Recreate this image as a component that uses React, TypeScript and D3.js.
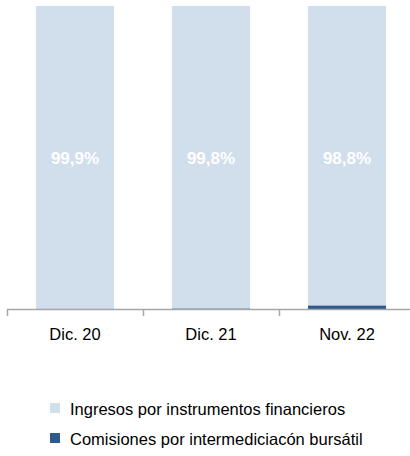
import React, { useEffect, useRef } from 'react';
import * as d3 from 'd3';

const categories = ['Dic. 20', 'Dic. 21', 'Nov. 22'];
const seriesNames = ['Ingresos por instrumentos financieros', 'Comisiones por intermediciacón bursátil'];
const ingresos = [99.9, 99.8, 98.8];
const comisiones = [0.1, 0.2, 1.2];
const labels = ['99,9%', '99,8%', '98,8%'];
const colors = ['#D1DEEC', '#2F5A8E'];

const App = () => {
  const ref = useRef<SVGSVGElement | null>(null);

  useEffect(() => {
    if (!ref.current) return;
    const svg = d3.select(ref.current);
    svg.selectAll('*').remove();

    const width = 410;
    const font = 'Liberation Sans, Arial, sans-serif';

    // Escalas
    const pad = 0.426;
    const x = d3.scaleBand<string>()
      .domain(categories)
      .range([7, 415])
      .paddingInner(pad)
      .paddingOuter(pad / 2);
    const y = d3.scaleLinear().domain([0, 100]).range([309, 6]);

    const rows = categories.map((c, i) => ({ cat: c, com: comisiones[i], ing: ingresos[i] }));
    const stack = d3.stack<any>().keys(['com', 'ing'])(rows);
    const fills: Record<string, string> = { com: colors[1], ing: colors[0] };

    svg.append('g')
      .selectAll('g')
      .data(stack)
      .enter()
      .append('g')
      .attr('fill', d => fills[d.key])
      .selectAll('rect')
      .data(d => d)
      .enter()
      .append('rect')
      .attr('x', d => x(d.data.cat) as number)
      .attr('width', x.bandwidth())
      .attr('y', d => y(d[1]))
      .attr('height', d => y(d[0]) - y(d[1]));

    // Etiquetas de porcentaje
    svg.append('g')
      .selectAll('text')
      .data(categories)
      .enter()
      .append('text')
      .attr('x', d => (x(d) as number) + x.bandwidth() / 2)
      .attr('y', 163.5)
      .attr('text-anchor', 'middle')
      .attr('fill', '#ffffff')
      .attr('font-family', font)
      .attr('font-weight', 'bold')
      .attr('font-size', 17)
      .text((d, i) => labels[i]);

    // Eje
    const step = x.step();
    const x0 = 7;
    svg.append('line')
      .attr('x1', x0).attr('x2', width)
      .attr('y1', 309.5).attr('y2', 309.5)
      .attr('stroke', '#A6A6A6').attr('stroke-width', 1.5);
    svg.append('g')
      .selectAll('line')
      .data(d3.range(categories.length + 1))
      .enter()
      .append('line')
      .attr('x1', i => x0 + i * step + 0.5)
      .attr('x2', i => x0 + i * step + 0.5)
      .attr('y1', 309)
      .attr('y2', 316)
      .attr('stroke', '#A6A6A6')
      .attr('stroke-width', 1.5);

    svg.append('g')
      .selectAll('text')
      .data(categories)
      .enter()
      .append('text')
      .attr('x', d => (x(d) as number) + x.bandwidth() / 2)
      .attr('y', 339.5)
      .attr('text-anchor', 'middle')
      .attr('fill', '#000000')
      .attr('font-family', font)
      .attr('font-size', 16.5)
      .text(d => d);

    // Leyenda
    const legend = svg.append('g')
      .selectAll('g')
      .data(seriesNames)
      .enter()
      .append('g')
      .attr('transform', (d, i) => `translate(50, ${403 + i * 30})`);
    legend.append('rect')
      .attr('width', 10)
      .attr('height', 10)
      .attr('fill', (d, i) => colors[i]);
    legend.append('text')
      .attr('x', 20)
      .attr('y', 12)
      .attr('fill', '#000000')
      .attr('font-family', font)
      .attr('font-size', 16.5)
      .text(d => d);
  }, []);

  return (
    <div style={{ position: 'absolute', top: 0, left: 0 }}>
      <svg ref={ref} width={410} height={456} />
    </div>
  );
};

export default App;
